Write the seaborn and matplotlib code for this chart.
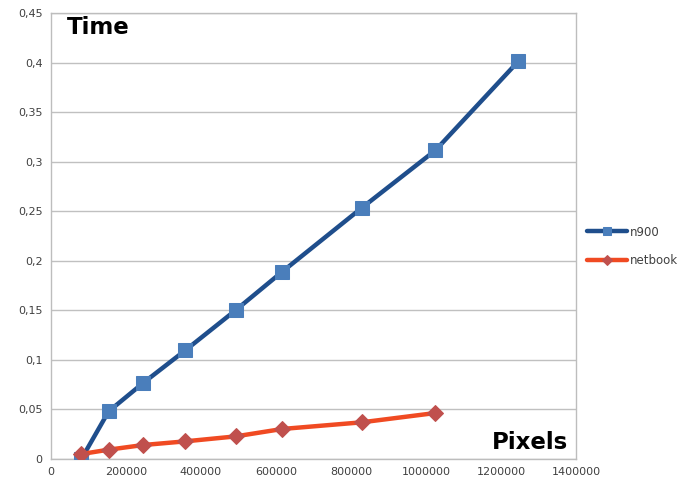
import matplotlib
matplotlib.use("Agg")
import matplotlib.pyplot as plt
from matplotlib.ticker import FuncFormatter, MultipleLocator
import seaborn as sns
import pandas as pd

# Rendering time versus image size
n900_pixels = [81000, 153600, 245760, 358000, 492000, 616800, 828500, 1025000, 1246000]
n900_time = [0.0, 0.048, 0.0767, 0.1096, 0.150, 0.189, 0.2533, 0.3114, 0.4012]

netbook_pixels = [81000, 153600, 245760, 358000, 492000, 616800, 828500, 1025000]
netbook_time = [0.005, 0.0094, 0.0141, 0.0178, 0.0228, 0.0303, 0.037, 0.0464]

x_ticks = [0, 200000, 400000, 600000, 800000, 1000000, 1200000, 1400000]

n900_df = pd.DataFrame({"pixels": n900_pixels, "time": n900_time})
netbook_df = pd.DataFrame({"pixels": netbook_pixels, "time": netbook_time})

sns.set_theme(style="white")
plt.rcParams["font.family"] = ["DejaVu Sans"]

fig = plt.figure(figsize=(6.77, 4.90), dpi=100)
ax = fig.add_axes([51 / 677, 31 / 490, 525 / 677, 446 / 490])

sns.lineplot(data=n900_df, x="pixels", y="time", ax=ax, color="#1F4E8C",
             linewidth=3.2, marker="s", markersize=10, markerfacecolor="#4A7EBB",
             markeredgecolor="#4A7EBB", label="n900", zorder=3)
sns.lineplot(data=netbook_df, x="pixels", y="time", ax=ax, color="#F04A22",
             linewidth=3.2, marker="D", markersize=8, markerfacecolor="#C0504D",
             markeredgecolor="#C0504D", label="netbook", zorder=4)

ax.set_xlim(0, 1400000)
ax.set_ylim(0, 0.45)
ax.set_xticks(x_ticks)
ax.xaxis.set_major_formatter(FuncFormatter(lambda v, p: f"{int(v)}"))
ax.yaxis.set_major_locator(MultipleLocator(0.05))


def comma_fmt(v, p):
    s = f"{v:.2f}".rstrip("0").rstrip(".")
    return s.replace(".", ",")


ax.yaxis.set_major_formatter(FuncFormatter(comma_fmt))
ax.grid(axis="y", color="#C0C0C0", linewidth=1)
ax.grid(axis="x", visible=False)
for s in ax.spines.values():
    s.set_color("#BDBDBD")
    s.set_linewidth(1)
ax.tick_params(axis="both", length=0, labelsize=8, labelcolor="#404040", pad=6)
ax.set_xlabel("")
ax.set_ylabel("")

ax.text(0.03, 0.993, "Time", transform=ax.transAxes, ha="left", va="top",
        fontsize=16.5, fontweight="heavy", color="black")
ax.text(0.985, 0.012, "Pixels", transform=ax.transAxes, ha="right", va="bottom",
        fontsize=16.5, fontweight="heavy", color="black")

leg = ax.legend(loc="center left", bbox_to_anchor=(1.0, 0.477), frameon=False,
                fontsize=8.5, handlelength=3.4, handletextpad=0.25, labelspacing=1.3,
                markerscale=0.6)
for t in leg.get_texts():
    t.set_color("#404040")

fig.savefig("out.png", dpi=100)
